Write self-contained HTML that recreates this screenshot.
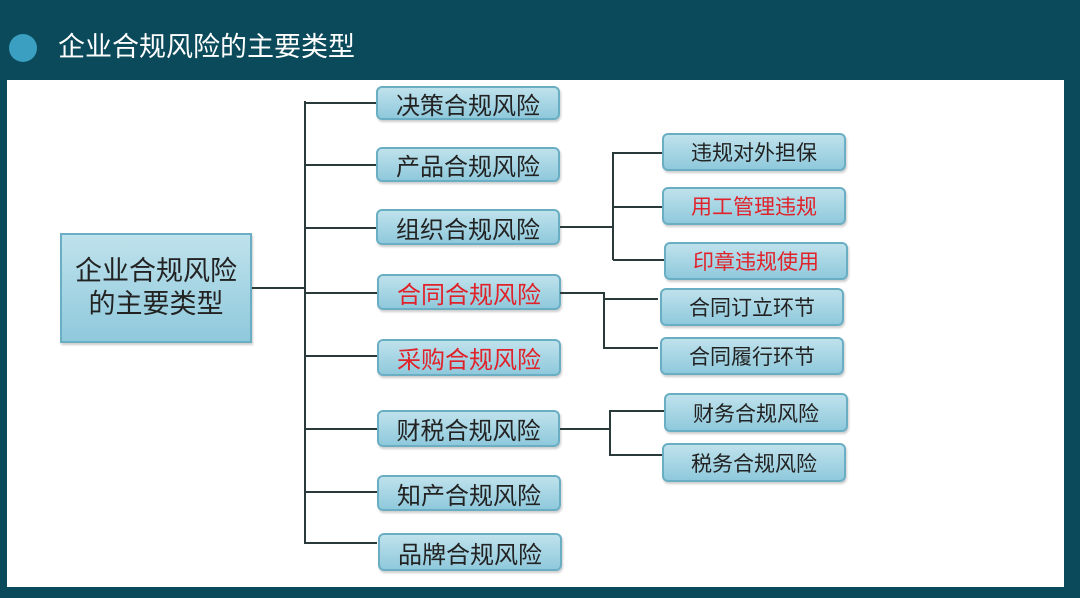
<!DOCTYPE html>
<html><head><meta charset="utf-8"><style>
body{margin:0;width:1080px;height:598px;background:#0b4a5a;position:relative;overflow:hidden;font-family:"Liberation Sans","Noto Sans CJK SC",sans-serif}
.panel{position:absolute;left:7px;top:80px;width:1057px;height:507px;background:#fff}
.t{position:absolute;left:58px;top:29px;color:#fff;font-size:27px;line-height:36px}
.dot{position:absolute;left:9px;top:34px;width:28px;height:28px;border-radius:50%;background:#3b9fc1}
.b{position:absolute;box-sizing:border-box;border:2px solid #6aaec4;border-radius:6px;background:linear-gradient(#bfe2ec,#8fc9dc);display:flex;align-items:center;justify-content:center;font-size:21px;color:#222;box-shadow:1px 2px 2px rgba(0,0,0,.2)}
.m{font-size:24px}
.r{color:#e0222a}
.l{position:absolute;background:#2a3a3a}
</style></head><body>
<div class="dot"></div><div class="t">企业合规风险的主要类型</div>
<div class="panel"></div>
<div class="b" style="left:60px;top:233px;width:192px;height:110px;border-radius:0;font-size:27px;line-height:33px;text-align:center">企业合规风险<br>的主要类型</div>
<div class="l" style="left:252px;top:287px;width:53px;height:2px"></div>
<div class="l" style="left:304px;top:101px;width:2px;height:443px"></div>
<div class="l" style="left:305px;top:102px;width:72px;height:2px"></div>
<div class="l" style="left:305px;top:164px;width:72px;height:2px"></div>
<div class="l" style="left:305px;top:227px;width:72px;height:2px"></div>
<div class="l" style="left:305px;top:292px;width:72px;height:2px"></div>
<div class="l" style="left:305px;top:355px;width:72px;height:2px"></div>
<div class="l" style="left:305px;top:428px;width:72px;height:2px"></div>
<div class="l" style="left:305px;top:491px;width:72px;height:2px"></div>
<div class="l" style="left:305px;top:542px;width:72px;height:2px"></div>
<div class="b m" style="left:376px;top:86px;width:184px;height:34px">决策合规风险</div>
<div class="b m" style="left:376px;top:147px;width:184px;height:35px">产品合规风险</div>
<div class="b m" style="left:376px;top:209px;width:184px;height:36px">组织合规风险</div>
<div class="b m r" style="left:377px;top:274px;width:184px;height:36px">合同合规风险</div>
<div class="b m r" style="left:377px;top:339px;width:184px;height:37px">采购合规风险</div>
<div class="b m" style="left:377px;top:410px;width:183px;height:37px">财税合规风险</div>
<div class="b m" style="left:377px;top:475px;width:184px;height:36px">知产合规风险</div>
<div class="b m" style="left:378px;top:533px;width:184px;height:38px">品牌合规风险</div>
<div class="l" style="left:560px;top:226px;width:53px;height:2px"></div>
<div class="l" style="left:612px;top:152px;width:2px;height:108px"></div>
<div class="l" style="left:613px;top:152px;width:50px;height:2px"></div>
<div class="l" style="left:613px;top:206px;width:50px;height:2px"></div>
<div class="l" style="left:613px;top:259px;width:52px;height:2px"></div>
<div class="b" style="left:662px;top:133px;width:184px;height:38px">违规对外担保</div>
<div class="b r" style="left:662px;top:187px;width:184px;height:38px">用工管理违规</div>
<div class="b r" style="left:664px;top:242px;width:184px;height:38px">印章违规使用</div>
<div class="l" style="left:560px;top:292px;width:44px;height:2px"></div>
<div class="l" style="left:603px;top:292px;width:2px;height:57px"></div>
<div class="l" style="left:604px;top:298px;width:54px;height:2px"></div>
<div class="l" style="left:604px;top:347px;width:54px;height:2px"></div>
<div class="b" style="left:660px;top:288px;width:184px;height:38px">合同订立环节</div>
<div class="b" style="left:660px;top:337px;width:184px;height:38px">合同履行环节</div>
<div class="l" style="left:560px;top:428px;width:49px;height:2px"></div>
<div class="l" style="left:609px;top:410px;width:2px;height:46px"></div>
<div class="l" style="left:610px;top:410px;width:54px;height:2px"></div>
<div class="l" style="left:610px;top:454px;width:52px;height:2px"></div>
<div class="b" style="left:664px;top:393px;width:184px;height:39px">财务合规风险</div>
<div class="b" style="left:662px;top:443px;width:184px;height:39px">税务合规风险</div>
</body></html>
